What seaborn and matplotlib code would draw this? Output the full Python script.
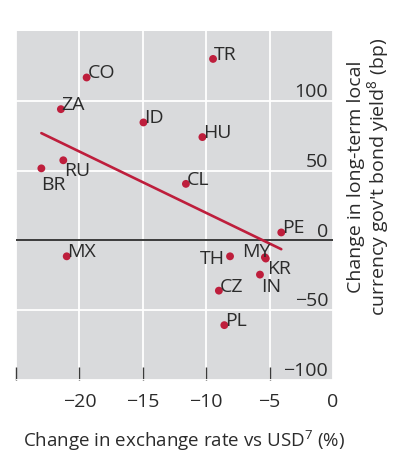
import matplotlib
matplotlib.use("Agg")
import matplotlib.pyplot as plt
import matplotlib.transforms as mtransforms
import numpy as np
import pandas as pd
import seaborn as sns

# Emerging-market currencies: FX move vs long-term local bond yield change
countries = ["TR", "CO", "ZA", "ID", "HU", "RU", "BR", "CL", "MX",
             "PE", "TH", "MY", "KR", "IN", "CZ", "PL"]
fx_change = [-9.46, -19.43, -21.46, -14.95, -10.3, -21.27, -23.0, -11.6, -21.0,
             -4.08, -8.12, -5.37, -5.3, -5.76, -9.0, -8.57]
yield_change = [130, 116.7, 94, 84.5, 74, 57.4, 51.6, 40.5, -11.4,
                5.7, -11.4, -12.1, -13, -24.5, -36, -60.7]

x_ticks = [-25, -20, -15, -10, -5, 0]
y_ticks = [-100, -50, 0, 50, 100]

df = pd.DataFrame({"country": countries, "fx": fx_change, "dy": yield_change})

RED = "#BE1E3C"
TXT = "#2B2B2B"
BG = "#D9DADC"

sns.set_style("white")
plt.rcParams["font.family"] = ["Open Sans", "DejaVu Sans"]
plt.rcParams["mathtext.fontset"] = "custom"
plt.rcParams["mathtext.rm"] = "Open Sans"
plt.rcParams["text.color"] = TXT

fig = plt.figure(figsize=(4.04, 4.60), dpi=100)
ax = fig.add_axes([16 / 404, 1 - 381 / 460, 317 / 404, 349 / 460])
ax.set_facecolor(BG)

ax.set_xlim(-25, 0)
ax.set_ylim(-100, 150)

# white grid
ax.set_xticks(x_ticks)
ax.set_yticks(y_ticks)
ax.grid(True, color="white", linewidth=1.3)
ax.set_axisbelow(True)
for s in ax.spines.values():
    s.set_visible(False)

ax.axhline(0, color="#1A1A1A", linewidth=1.2, zorder=2)

sns.regplot(data=df, x="fx", y="dy", ax=ax, ci=None, scatter=False,
            truncate=True, color=RED, line_kws={"linewidth": 1.9, "zorder": 3})
sns.scatterplot(data=df, x="fx", y="dy", ax=ax, color=RED, s=32,
                edgecolor="none", zorder=4)

# label placement: (ha, va, dx, dy) in points
placement = {
    "RU": ("left", "top", 0.5, -0.5),
    "BR": ("left", "top", 0, -4.5),
    "TH": ("right", "center", -4, -1),
    "MY": ("right", "baseline", 4, 1),
    "KR": ("left", "top", 1, -0.5),
    "IN": ("left", "top", 1, -1.5),
}
for name, xv, yv in zip(countries, fx_change, yield_change):
    ha, va, dx, dy = placement.get(name, ("left", "baseline", 0.5, 0))
    ax.annotate(name, (xv, yv), xytext=(dx, dy), textcoords="offset points",
                ha=ha, va=va, fontsize=14, color=TXT, zorder=5)

# x ticks: marks pointing inward from the bottom edge
ax.set_xticklabels(["" if v == -25 else str(v).replace("-", "\u2212") for v in x_ticks])
ax.tick_params(axis="x", direction="in", length=9.5, width=1, color="#3A3A3A",
               pad=9, labelsize=14, labelcolor=TXT, bottom=True, top=False)
ax.xaxis.get_major_ticks()[-1].tick1line.set_visible(False)

# y tick labels drawn inside the plot, sitting on their gridlines
ax.tick_params(axis="y", left=False, right=False, labelleft=False, labelright=False)
trans = mtransforms.blended_transform_factory(ax.transAxes, ax.transData)
for v in y_ticks:
    ax.annotate(str(v).replace("-", "\u2212"), (0.985, v), xycoords=trans,
                xytext=(0, 3.5), textcoords="offset points",
                ha="right", va="baseline", fontsize=14, color=TXT)

ax.set_xlabel("Change in exchange rate vs USD$^\\mathregular{7}$ (%)",
              fontsize=13.5, color=TXT)
ax.xaxis.set_label_coords(0.53, -0.135)

ax.set_ylabel("Change in long-term local\ncurrency gov't bond yield$^\\mathregular{8}$ (bp)",
              fontsize=14, color=TXT, linespacing=1.0)
ax.yaxis.set_label_position("right")
ax.yaxis.label.set_rotation(90)
ax.yaxis.label.set_rotation_mode("default")
ax.yaxis.label.set_va("center")
ax.yaxis.label.set_ha("center")
ax.yaxis.set_label_coords(1.115, 0.585)

fig.savefig("out.png", dpi=100)
